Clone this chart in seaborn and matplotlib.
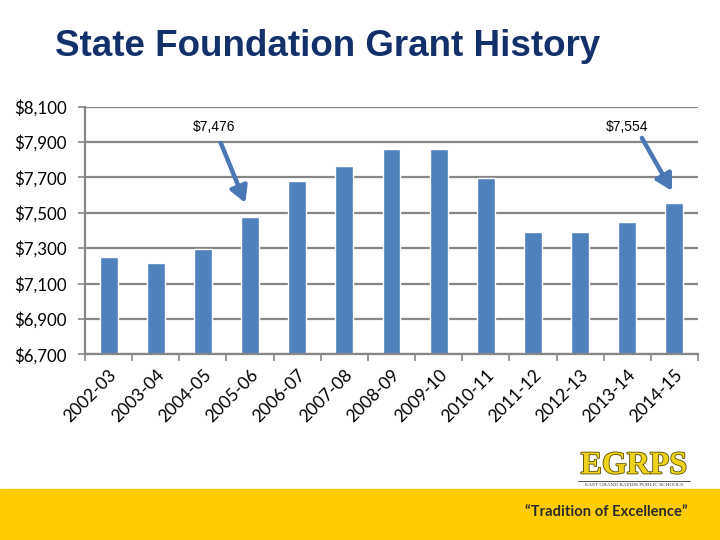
import matplotlib
matplotlib.use("Agg")
import matplotlib.pyplot as plt
import matplotlib.patheffects as pe
import numpy as np
import pandas as pd
import seaborn as sns

years = ["2002-03", "2003-04", "2004-05", "2005-06", "2006-07", "2007-08", "2008-09",
         "2009-10", "2010-11", "2011-12", "2012-13", "2013-14", "2014-15"]
grants = [7250, 7215, 7298, 7476, 7682, 7765, 7858, 7858, 7695, 7391, 7391, 7448, 7554]
yticks = [6700, 6900, 7100, 7300, 7500, 7700, 7900, 8100]
callouts = {"2005-06": "$7,476", "2014-15": "$7,554"}

sns.set_theme(style="white")
plt.rcParams['font.family'] = ['Lato', 'DejaVu Sans']

df = pd.DataFrame({"year": years, "grant": grants})

fig = plt.figure(figsize=(7.2, 5.4), dpi=100)
ax = fig.add_axes([85/720, 1-354.3/540, (698-85)/720, (354.3-106.7)/540])

sns.barplot(data=df, x="year", y="grant", color="#4F81BD", saturation=1,
            width=0.38, ax=ax, zorder=3)

ax.set_ylim(6700, 8100)
ax.set_xlim(-0.5, len(years) - 0.5)
ax.set_yticks(yticks)
ax.set_yticklabels([f"${v:,}" for v in yticks], fontsize=12.2, color="#000000")
ax.set_xlabel("")
ax.set_ylabel("")
for g in yticks:
    ax.axhline(g, color="#868686", lw=1.6, zorder=1)

ax.set_xticks(range(len(years)))
ax.set_xticklabels(years, rotation=45, ha="right", va="top", rotation_mode="anchor",
                   fontsize=12.5, color="#000000")
ax.set_xticks(np.arange(-0.5, len(years), 1), minor=True)
ax.tick_params(axis="x", which="major", length=0, pad=9)
ax.tick_params(axis="x", which="minor", length=5, width=1.2, color="#868686", bottom=True)
ax.tick_params(axis="y", length=5, width=1.2, color="#868686", left=True, pad=8)

for s in ["top", "right"]:
    ax.spines[s].set_visible(False)
for s in ["left", "bottom"]:
    ax.spines[s].set_color("#868686")
    ax.spines[s].set_linewidth(1.6)
ax.spines["bottom"].set_zorder(4)

# callout annotations
for yr, label in callouts.items():
    i = years.index(yr)
    v = grants[i]
    if i == 3:
        txt = (i - 0.76, 7985)
        start = (i - 0.62, 7895)
        end = (i - 0.1, v + 80)
    else:
        txt = (i - 1.0, 7985)
        start = (i - 0.69, 7923)
        end = (i - 0.05, v + 70)
    ax.text(*txt, label, ha="center", va="center", fontsize=10,
            family=["Liberation Sans", "DejaVu Sans"], color="#000000")
    ax.annotate("", xy=end, xytext=start,
                arrowprops=dict(arrowstyle="-|>,head_length=0.8,head_width=0.45",
                                color="#4A78B5", lw=3.2, shrinkA=0, shrinkB=0),
                zorder=5)

# title
fig.text(55/720, 1-47/540, "State Foundation Grant History", fontsize=26.5,
         fontweight="bold", color="#12306A", ha="left", va="center",
         family=["Liberation Sans", "DejaVu Sans"])

# bottom yellow band
fig.patches.append(plt.Rectangle((0, 0), 1, 51/540, transform=fig.transFigure,
                                 color="#FFCC00", zorder=0))
fig.text(688/720, 1-512/540, "\u201cTradition of Excellence\u201d", fontsize=10.6,
         fontweight="bold", color="#2B2B2B", ha="right", va="center")

# logo
fig.text(634/720, 1-466/540, "EGRPS", fontsize=23, fontweight="bold",
         family=["Liberation Serif", "DejaVu Serif"], color="#EFD21E",
         ha="center", va="center",
         path_effects=[pe.withStroke(linewidth=1.2, foreground="#5A5000")])
fig.text(634/720, 1-484.5/540, "EAST GRAND RAPIDS PUBLIC SCHOOLS", fontsize=3.8,
         family=["Liberation Serif", "DejaVu Serif"], color="#333333",
         ha="center", va="center")
fig.add_artist(plt.Line2D([578/720, 690/720], [1-481/540, 1-481/540],
                          color="#333333", lw=0.6))

fig.savefig("out.png", dpi=100)
